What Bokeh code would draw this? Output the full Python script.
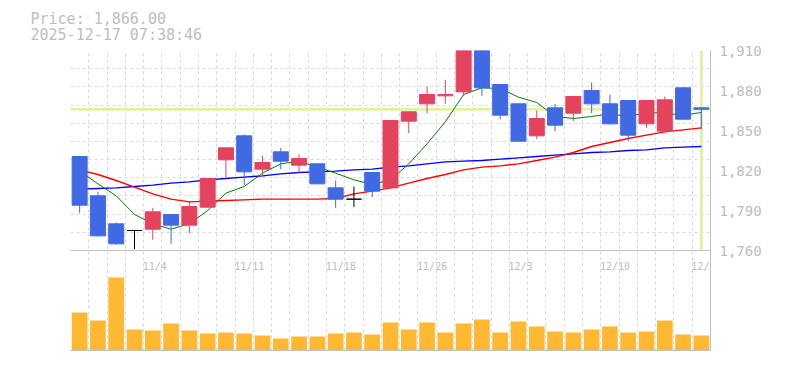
from bokeh.plotting import figure
from bokeh.models import (Range1d, FixedTicker, NumeralTickFormatter, Span, Title,
                          ColumnDataSource, Label)
from bokeh.embed import file_html
from bokeh.resources import INLINE

# ---------------- data ----------------
dates = ["10/28", "10/29", "10/30", "10/31", "11/4", "11/5", "11/6", "11/7", "11/10",
         "11/11", "11/12", "11/13", "11/14", "11/17", "11/18", "11/19", "11/20", "11/21",
         "11/25", "11/26", "11/27", "11/28", "12/1", "12/2", "12/3", "12/4", "12/5",
         "12/8", "12/9", "12/10", "12/11", "12/12", "12/15", "12/16", "12/17"]
opens = [1830.5, 1801, 1780, 1775, 1776, 1787, 1779, 1792.5, 1828, 1846, 1821, 1834, 1824,
         1825, 1807, 1798.5, 1818.5, 1807, 1857, 1870, 1876, 1879, 1912, 1884.5, 1870,
         1846, 1867, 1863, 1880, 1870, 1872.5, 1855, 1849.5, 1882, 1867]
highs = [1831, 1804, 1781, 1775, 1792, 1787, 1797, 1814, 1837, 1847, 1831, 1837, 1832,
         1825, 1812.5, 1808, 1818.5, 1857.5, 1864, 1883, 1888, 1918, 1916, 1885, 1870,
         1865, 1870, 1876, 1886, 1877, 1872.5, 1873, 1875.5, 1882, 1867]
lows = [1788, 1770.5, 1764.5, 1761, 1768, 1765, 1773, 1792.5, 1815, 1809, 1816, 1821,
        1818, 1810, 1792, 1792.5, 1800, 1807, 1848, 1863, 1870, 1876, 1876, 1858.5,
        1842, 1843.5, 1849.5, 1857, 1863, 1854.5, 1842, 1852, 1849.5, 1858.5, 1851]
closes = [1794, 1771, 1765, 1775, 1789, 1779, 1793, 1814, 1837, 1819, 1826, 1827, 1829,
          1810, 1798.5, 1798.5, 1804.5, 1857.5, 1864, 1877, 1877, 1913, 1882, 1861.5,
          1842, 1859, 1854, 1875.5, 1870, 1855, 1846.5, 1872.5, 1873, 1858.5, 1866]
volumes = [38, 30, 73, 21, 20, 27, 20, 17, 18, 17, 15, 12, 14, 14, 17, 18, 16, 28, 21,
           28, 18, 27, 31, 18, 29, 24, 19, 18, 21, 24, 18, 19, 30, 16, 15]
ma5 = [1819.5, 1810, 1801, 1787, 1780, 1776, 1780, 1790, 1803, 1808, 1818, 1825, 1827,
       1822.5, 1818, 1813, 1809.5, 1813, 1825, 1840, 1856.5, 1877, 1882, 1881.5, 1875,
       1871, 1860.5, 1859, 1860.5, 1862.5, 1860.5, 1863.5, 1863, 1861.5, 1863.5]
ma25 = [1820.5, 1817, 1812.5, 1807.5, 1802.5, 1798.5, 1796.5, 1797, 1797.5, 1798, 1798.5,
        1798.5, 1798.5, 1798.5, 1799, 1802.5, 1804.5, 1807, 1810.5, 1814, 1817, 1820.5,
        1822.5, 1823.5, 1825, 1827.5, 1830, 1833.5, 1838, 1841, 1844, 1846.5, 1849,
        1850.5, 1852]
ma75 = [1806, 1806.5, 1807, 1808, 1809, 1810.5, 1811.5, 1813, 1814, 1815, 1816, 1817.5,
        1818.5, 1819, 1819.5, 1820.5, 1821, 1822.5, 1823.5, 1825, 1826.5, 1827, 1827.5,
        1828.5, 1829.5, 1830.5, 1831.5, 1832.5, 1833.5, 1834, 1835, 1835.5, 1837, 1837.5,
        1838]
tick_labels = ["11/4", "11/11", "11/18", "11/26", "12/3", "12/10", "12/17"]
price_ticks = [1760, 1790, 1820, 1850, 1880, 1910]
timestamp = "2025-12-17 07:38:46"

# ---------------- styles ----------------
UP, DOWN, DOJI = "#e2445f", "#4169e1", "#000000"
VOL = "#ffb833"
CROSS = "#e2f1a9"
GRID = "#d8d8d8"
AXIS = "#c0c0c0"
TXT = "#bdbdbd"
MONO = "DejaVu Sans Mono"

n = len(dates)
xs = list(range(n))
colors = [UP if c > o else (DOWN if c < o else DOJI) for o, c in zip(opens, closes)]
src = ColumnDataSource(dict(
    x=xs, high=highs, low=lows,
    top=[max(o, c) for o, c in zip(opens, closes)],
    bottom=[min(o, c) for o, c in zip(opens, closes)],
    color=colors, vol=volumes))

price_lo, price_hi = price_ticks[0], price_ticks[-1]
span = price_hi - price_lo
y_lo = price_lo - span / 2  # lower third of the frame holds the volume panel

p = figure(width=776, height=360, x_range=Range1d(-0.5, n - 0.5),
           y_range=Range1d(y_lo, price_hi), output_backend="svg",
           toolbar_location=None, title=None, y_axis_location="right",
           min_border_left=70, min_border_right=66, min_border_top=50,
           min_border_bottom=10, outline_line_color=None)
p.extra_y_ranges = {"vol": Range1d(0, 300)}

# grid
p.ygrid.ticker = FixedTicker(ticks=[price_lo + i * span / 11 for i in range(12)])
p.xgrid.ticker = FixedTicker(ticks=[i - 0.5 for i in range(n + 1)])
for g in (p.xgrid, p.ygrid):
    g.grid_line_color = GRID
    g.grid_line_dash = "3 3"
    g.grid_line_width = 1

# right price axis
p.yaxis.ticker = FixedTicker(ticks=price_ticks)
p.yaxis.formatter = NumeralTickFormatter(format="0,0")
p.yaxis.major_tick_line_color = None
p.yaxis.minor_tick_line_color = None
p.yaxis.axis_line_color = AXIS
p.yaxis.major_label_text_font = MONO
p.yaxis.major_label_text_font_size = "14px"
p.yaxis.major_label_text_color = TXT
p.yaxis.major_label_standoff = 3

# bottom axis = plain border line
p.xaxis.ticker = FixedTicker(ticks=[])
p.xaxis.major_label_text_font_size = "0px"
p.xaxis.major_tick_line_color = None
p.xaxis.minor_tick_line_color = None
p.xaxis.axis_line_color = AXIS

# current price line and crosshair
p.add_layout(Span(location=closes[-1], dimension="width", line_color=CROSS,
                  line_width=3, level="underlay"))
p.segment(x0=[n - 1], y0=[price_lo], x1=[n - 1], y1=[price_hi],
          line_color=CROSS, line_width=3)

# moving averages
p.line(xs, ma75, line_color="#0000ff", line_width=1.4)
p.line(xs, ma25, line_color="#ff0000", line_width=1.4)
p.line(xs, ma5, line_color="#008000", line_width=1)

# candles
p.segment(x0="x", y0="high", x1="x", y1="low", line_color="color", line_width=1, source=src)
p.vbar(x="x", top="top", bottom="bottom", width=0.82, fill_color="color",
       line_color="color", line_width=1, source=src)

# volume
p.vbar(x="x", top="vol", bottom=0, width=0.86, fill_color=VOL, line_color=None,
       y_range_name="vol", source=src)

# separator between price and volume panels
p.add_layout(Span(location=price_lo, dimension="width", line_color=AXIS, line_width=1))

# date labels inside the volume panel
for t in tick_labels:
    p.add_layout(Label(x=dates.index(t), y=price_lo, text=t, text_font=MONO,
                       text_font_size="10px", text_color=TXT, text_align="left",
                       text_baseline="alphabetic", x_offset=-10, y_offset=-16))

# header (two lines)
header = f"Price: {closes[-1]:,.2f}\n{timestamp}"
p.add_layout(Title(text=header, align="left", offset=-40, text_font=MONO,
                   text_font_size="15px", text_color=TXT, text_font_style="normal",
                   text_line_height=0.93, standoff=12), "above")

open("out.html", "w").write(file_html(p, INLINE))
